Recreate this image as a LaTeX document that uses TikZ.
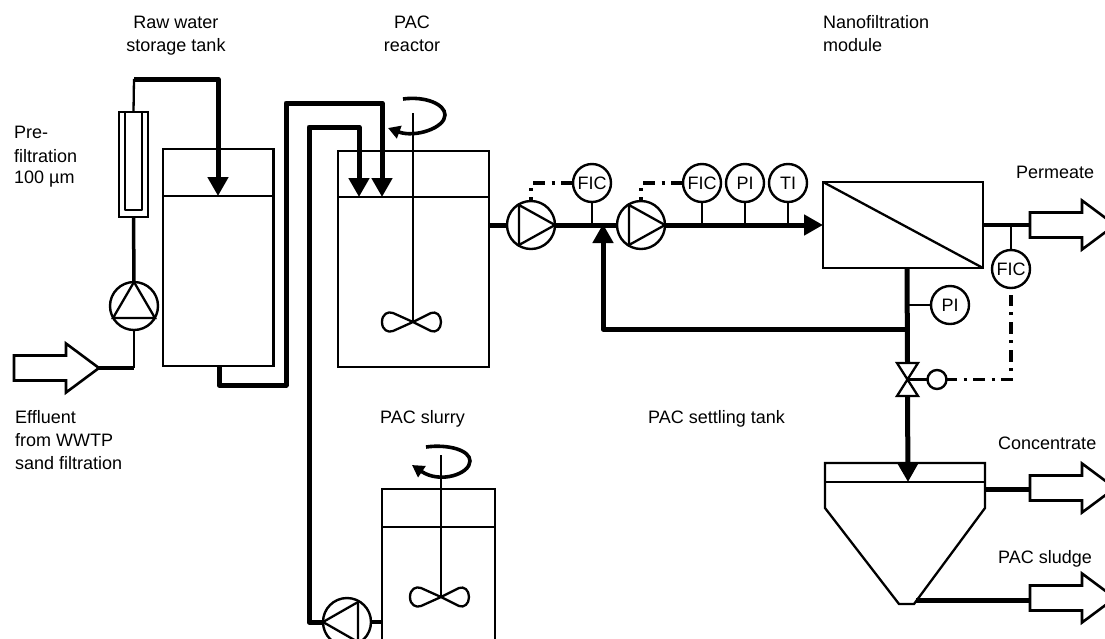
\documentclass[tikz,border=0pt]{standalone}
\usepackage{fontspec}
\setmainfont{Liberation Sans}
\usetikzlibrary{arrows.meta,calc}
\tikzset{
  thinline/.style={line width=2.3pt,line join=round},
  pipe/.style={line width=5pt,line join=round},
  midpipe/.style={line width=3.5pt,line join=round},
  signal/.style={line width=3.2pt,dash pattern=on 12pt off 6.5pt on 3pt off 6.5pt},
  flow/.style={pipe,-{Triangle[width=20pt,length=19pt]}},
  vessel/.style={draw,line width=2.3pt,inner sep=0pt,outer sep=0pt},
  instrument/.style={draw,circle,line width=2.4pt,minimum size=38pt,inner sep=0pt,outer sep=0pt,fill=white,font=\fontsize{18}{20}\selectfont},
  pumpbody/.style={draw,circle,line width=2.4pt,minimum size=48pt,inner sep=0pt,outer sep=0pt},
  label/.style={anchor=base west,inner sep=0pt,font=\fontsize{18}{22}\selectfont},
  clabel/.style={anchor=base,inner sep=0pt,font=\fontsize{18}{22}\selectfont},
  blockarrow/.style={line width=2.6pt,line join=miter},
  rot/.style={line width=3.6pt,-{Triangle[width=13pt,length=12pt]}}
}
\newcommand{\blockarrowat}[3]{%
  \coordinate (#1) at (#2,#3);
  \draw[blockarrow] (#1) ++(0,-12.5) -- ++(52,0) -- ++(0,-12) -- ++(33,24.5) -- ++(-33,24.5) -- ++(0,-12) -- ++(-52,0) -- cycle;}
\newcommand{\impeller}[2]{%
  \begin{scope}[shift={(#1,#2)}]
  \draw[thinline] (0,0) -- (-20,-9) .. controls (-25,-11) and (-31,-8) .. (-31,0) .. controls (-31,8) and (-25,11) .. (-20,9) -- (0,0)
    -- (18,-9) .. controls (23,-11) and (28,-7) .. (28,0) .. controls (28,7) and (23,11) .. (18,9) -- cycle;
  \end{scope}}
\begin{document}
\begin{tikzpicture}[x=1pt,y=-1pt]
\useasboundingbox (0,0) rectangle (1105,638);
\clip (0,0) rectangle (1105,638);

% Labels
\node[clabel] (lraw1) at (176,28) {Raw water};
\node[clabel] (lraw2) at (176,51) {storage tank};
\node[clabel] (lpac1) at (412,28) {PAC};
\node[clabel] (lpac2) at (412,51) {reactor};
\node[label] (lnano1) at (823,28) {Nanofiltration};
\node[label] (lnano2) at (823,51) {module};
\node[label] (lpre1) at (14,138) {Pre-};
\node[label] (lpre2) at (14,162) {filtration};
\node[label] (lpre3) at (14,183) {100 µm};
\node[label] (leff1) at (15,423) {Effluent};
\node[label] (leff2) at (15,446) {from WWTP};
\node[label] (leff3) at (15,469) {sand filtration};
\node[label] (lslurry) at (380,423) {PAC slurry};
\node[label] (lsettle) at (648,423) {PAC settling tank};
\node[label] (lperm) at (1016,178) {Permeate};
\node[label] (lconc) at (998,449) {Concentrate};
\node[label] (lsludge) at (998,563) {PAC sludge};

% Vessels
\node[vessel,minimum width=110.5pt,minimum height=217pt] (tank) at (218.25,257.5) {};
\draw[thinline] (163,196) coordinate (tankL) -- (273.5,196) coordinate (tankR);
\node[vessel,minimum width=151pt,minimum height=216pt] (reactor) at (413.5,259) {};
\draw[thinline] (338,197) -- (489,197);
\node[vessel,minimum width=113pt,minimum height=171pt] (slurry) at (438.5,574.5) {};
\draw[thinline] (382,527) -- (495,527);
\node[vessel,minimum width=160pt,minimum height=86pt] (module) at (903,225) {};
\draw[thinline] (module.north west) -- (module.south east);

% Rotameter
\node[vessel,line width=2.8pt,minimum width=29pt,minimum height=105pt] (rota) at (133.5,164.5) {};
\draw[thinline] (125,112) -- (125,210) -- (142,210) -- (142,112);

% Pumps
\node[pumpbody] (pa) at (134,306) {};
\draw[thinline,line join=miter] (134,282) -- (113,318) -- (155,318) -- cycle;
\node[pumpbody] (pb) at (531,225) {};
\draw[thinline,line join=miter] (519,205) -- (555,225) -- (519,245) -- cycle;
\node[pumpbody] (pc) at (641,225) {};
\draw[thinline,line join=miter] (629,205) -- (665,225) -- (629,245) -- cycle;
\node[pumpbody] (pd) at (347,622) {};
\draw[thinline,line join=miter] (358,602) -- (323,622) -- (358,642) -- cycle;

% Instruments
\node[instrument] (fica) at (592,183) {FIC};
\node[instrument] (ficb) at (702,183) {FIC};
\node[instrument] (pia) at (745,183) {PI};
\node[instrument] (tia) at (788,183) {TI};
\node[instrument] (ficc) at (1011,269) {FIC};
\node[instrument] (pib) at (950,305) {PI};

% Valve
\coordinate (vtop) at (907.5,363);
\coordinate (vbot) at (907.5,396);
\coordinate (vmid) at (907.5,379.5);
\draw[thinline,line join=miter] (897,363) -- (918,363) -- (897,396) -- (918,396) -- cycle;
\node[draw,circle,line width=2.4pt,minimum size=19pt,inner sep=0pt,outer sep=0pt] (vact) at (937,379.5) {};
\draw[thinline] (vmid) -- (vact.west);

% Settling tank
\draw[thinline,line join=miter] (825,463) -- (985,463) -- (985,508) -- (914,604) -- (899,604) -- (825,508) -- cycle;
\draw[thinline] (825,482) -- (985,482);
\coordinate (sout1) at (985,489);
\coordinate (sout2) at (916,600);
\coordinate (stip) at (908,482);

% Block arrows
\blockarrowat{ain}{14}{368}
\blockarrowat{aperm}{1030}{225}
\blockarrowat{aconc}{1030}{488}
\blockarrowat{aslud}{1030}{598}

% Inlet, pre-filtration
\coordinate (intip) at (99,368);
\draw[midpipe] (intip) -- (134,368);
\draw[thinline] (134,368) -- (pa.south);
\draw[midpipe] (pa.north) -- (rota.south);
\draw[thinline] (rota.north) -- (134,79);
\coordinate (tanktip) at (218,196);
\draw[flow] (134,79) -- (218,79) -- (tanktip);

% Tank to reactor
\coordinate (rtipa) at (382,197);
\coordinate (rtipb) at (359,197);
\draw[flow] (219,366) -- (219,385) -- (286,385) -- (286,103) -- (382,103) -- (rtipa);
\draw[flow] (pd.west) -- (309,622) -- (309,127) -- (359,127) -- (rtipb);
\draw[midpipe] (pd.east) -- (slurry.west |- pd.east);

% Main line
\draw[pipe] (reactor.east |- pb.west) -- (pb.west);
\draw[pipe] (pb.east) -- (pc.west);
\coordinate (modin) at (823,225);
\draw[flow] (pc.east) -- (modin);
\coordinate (rettip) at (603,224);
\draw[flow] (907,329) -- (603,329) -- (rettip);
\draw[pipe] (907,268) -- (vtop);
\draw[flow] (vbot) -- (stip);
\draw[midpipe] (module.east) -- (aperm);
\draw[pipe] (sout1) -- (aconc |- sout1);
\draw[pipe] (sout2) -- (aslud |- sout2);

% Instrument stems
\foreach \n in {fica,ficb,pia,tia} \draw[thinline] (\n.south) -- (\n.south |- pb.east);
\draw[thinline] (ficc.north) -- (ficc.north |- aperm);
\draw[thinline] (pib.west) -- (907,305);

% Signals
\coordinate (ficend) at (1011,295);
\draw[signal,dash phase=8pt] (pb.north) -- (531,183) -- (fica.west);
\draw[signal,dash phase=8pt] (pc.north) -- (641,183) -- (ficb.west);
\draw[signal,dash phase=1.5pt] (vact.east) -- (1011,379.5) -- (ficend);

% Agitators
\draw[thinline] (413,113) coordinate (sha) -- (413,322);
\impeller{413}{322}
\draw[thinline] (441,455) coordinate (shb) -- (441,597);
\impeller{441}{597}
\draw[rot] (403,99) .. controls (425,96) and (445,104) .. (445,115) .. controls (445,128) and (415,138) .. (388,128);
\draw[rot] (426,447) .. controls (448,444) and (470,450) .. (470,461) .. controls (470,474) and (440,484) .. (412,465);
\end{tikzpicture}
\end{document}
